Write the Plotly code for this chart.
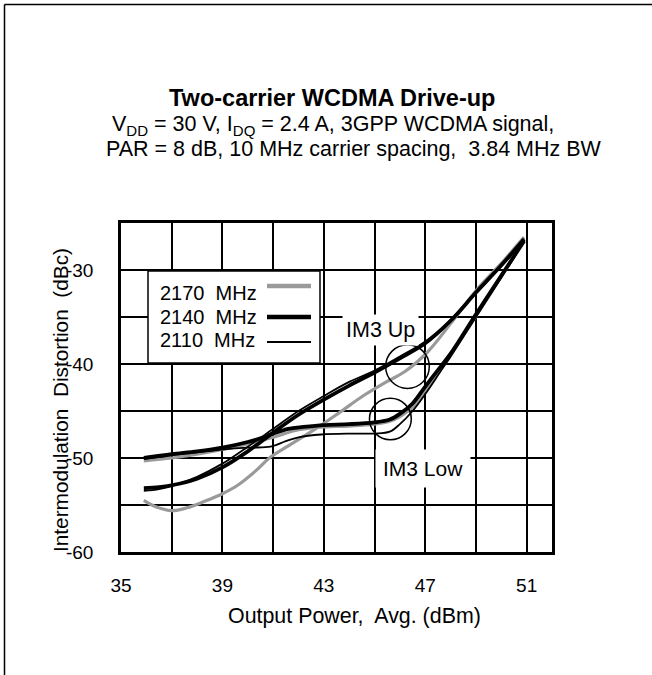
import plotly.graph_objects as go

# IM3 curves (x = output power dBm, y = dBc)
x_2170_up = [35.9, 36.3, 37, 37.6, 38.3, 39, 39.6, 40.3, 40.9, 41.6, 42.2, 42.9, 43.6, 44.6, 45.4, 46.2, 47.1, 48, 49, 50, 50.9]
y_2170_up = [-54.5, -55.1, -55.6, -55.3, -54.6, -53.8, -52.9, -51.4, -49.9, -48.7, -47.7, -46.5, -45.2, -43.3, -42.0, -40.8, -38.7, -35.7, -32.2, -29.3, -26.5]

x_2170_low = [35.9, 37, 38, 39, 40, 41, 42, 43, 44, 45, 45.6, 46, 46.5, 47, 47.6, 48, 49, 50, 50.9]
y_2170_low = [-50.3, -50.0, -49.6, -49.1, -48.5, -47.8, -47.0, -46.7, -46.6, -46.4, -46.1, -45.6, -44.6, -42.8, -40.6, -39.1, -34.9, -30.7, -26.8]

x_2140_up = [35.9, 36.5, 37, 38, 39, 40, 41, 42, 43, 44, 45, 46, 47, 48, 49, 50, 50.9]
y_2140_up = [-53.2, -53.1, -52.9, -52.2, -51.0, -49.3, -47.3, -45.4, -43.8, -42.3, -40.9, -39.4, -37.8, -35.4, -32.4, -29.5, -26.7]

x_2140_low = [35.9, 37, 38, 39, 40, 40.5, 41, 41.6, 42.2, 43, 44, 45, 45.6, 46, 46.5, 47, 47.6, 48, 49, 50, 50.9]
y_2140_low = [-50.0, -49.6, -49.3, -48.9, -48.3, -47.9, -47.4, -46.9, -46.7, -46.5, -46.4, -46.2, -45.9, -45.3, -44.2, -42.4, -40.3, -38.9, -34.7, -30.6, -26.9]

x_2110_up = [35.9, 36.5, 37, 38, 39, 40, 41, 42, 43, 44, 45, 46, 47, 48, 49, 50, 50.9]
y_2110_up = [-53.5, -53.3, -53.0, -52.0, -50.6, -48.8, -46.9, -45.0, -43.4, -41.9, -40.7, -39.2, -37.6, -35.3, -32.4, -29.6, -26.9]

x_2110_low = [35.9, 37, 38, 39, 40, 40.9, 41.5, 42, 42.9, 44, 45, 45.6, 46, 46.5, 47, 47.6, 48, 49, 50, 50.9]
y_2110_low = [-50.1, -49.7, -49.4, -49.1, -48.9, -48.8, -48.2, -47.8, -47.5, -47.4, -47.4, -47.2, -46.4, -45.0, -43.2, -40.8, -39.2, -35.0, -30.8, -27.0]

x_ticks = [35, 39, 43, 47, 51]
y_ticks = [-30, -40, -50, -60]
legend_names = ["2170 MHz", "2140 MHz", "2110 MHz"]

FONT = "Liberation Sans, Arial, sans-serif"
GRAY = "#9a9a9a"

# plot area in pixels
L, R, T, B = 121, 100, 223, 123
W, H = 652, 675
PW, PH = W - L - R, H - T - B


def px(xp):
    return (xp - L) / PW


def py(yp):
    return (H - B - yp) / PH


fig = go.Figure()

series = [
    (x_2170_up, y_2170_up, GRAY, 3.2),
    (x_2170_low, y_2170_low, GRAY, 3.2),
    (x_2140_up, y_2140_up, "black", 3.8),
    (x_2140_low, y_2140_low, "black", 3.8),
    (x_2110_up, y_2110_up, "black", 1.8),
    (x_2110_low, y_2110_low, "black", 1.8),
]
for xs, ys, col, w in series:
    fig.add_trace(go.Scatter(x=xs, y=ys, mode="lines", line=dict(color=col, width=w, shape="spline"),
                             showlegend=False, hoverinfo="skip"))

fig.update_xaxes(range=[35, 52], tickvals=x_ticks, ticktext=[str(v) for v in x_ticks],
                 showgrid=True, gridcolor="black", gridwidth=2,
                 minor=dict(tick0=35, dtick=2, showgrid=True, gridcolor="black", gridwidth=2),
                 showline=True, linecolor="black", linewidth=2.5, mirror=True, zeroline=False,
                 ticks="", ticklabelstandoff=14, tickfont=dict(family=FONT, size=19, color="black"))
fig.update_yaxes(range=[-60, -25], tickvals=y_ticks, ticktext=[str(v) for v in y_ticks],
                 showgrid=True, gridcolor="black", gridwidth=2,
                 minor=dict(tick0=-60, dtick=5, showgrid=True, gridcolor="black", gridwidth=2),
                 showline=True, linecolor="black", linewidth=2.5, mirror=True, zeroline=False,
                 ticks="", ticklabelstandoff=21, tickfont=dict(family=FONT, size=19, color="black"))

shapes = []
# page frame
shapes.append(dict(type="line", xref="paper", yref="paper", x0=px(4.5), x1=px(W + 10), y0=py(4.5), y1=py(4.5),
                   line=dict(color="black", width=1.5)))
shapes.append(dict(type="line", xref="paper", yref="paper", x0=px(4.5), x1=px(4.5), y0=py(H + 10), y1=py(4.5),
                   line=dict(color="black", width=1.5)))
# legend box
shapes.append(dict(type="rect", xref="paper", yref="paper", x0=px(148), x1=px(320), y0=py(363), y1=py(271),
                   fillcolor="white", line=dict(color="black", width=1.5), layer="above"))
leg_styles = [(GRAY, 4.5, 286), ("black", 4.5, 317), ("black", 2, 342)]
for (col, w, yy) in leg_styles:
    shapes.append(dict(type="line", xref="paper", yref="paper", x0=px(267), x1=px(311), y0=py(yy), y1=py(yy),
                       line=dict(color=col, width=w), layer="above"))
# IM3 circles
shapes.append(dict(type="circle", xref="x", yref="y", x0=45.44, x1=47.16, y0=-42.6, y1=-37.95,
                   line=dict(color="black", width=1.5)))
shapes.append(dict(type="circle", xref="x", yref="y", x0=44.8, x1=46.45, y0=-48.05, y1=-43.65,
                   line=dict(color="black", width=1.5)))

ann = []
ann.append(dict(text="<b>Two-carrier WCDMA Drive-up</b>", x=px(332), y=py(98), font=dict(size=23.5)))
ann.append(dict(text="V<sub>DD</sub> = 30 V, I<sub>DQ</sub> = 2.4 A, 3GPP WCDMA signal,", x=px(333), y=py(125),
                font=dict(size=21.5)))
ann.append(dict(text="PAR = 8 dB, 10 MHz carrier spacing,  3.84 MHz BW", x=px(354), y=py(149),
                font=dict(size=21.5)))
ann.append(dict(text="Output Power,  Avg. (dBm)", x=px(354), y=py(616), font=dict(size=21.4)))
ann.append(dict(text="Intermodulation\u00a0 Distortion\u00a0 (dBc)", x=px(60), y=py(400), textangle=-90,
                font=dict(size=20.8)))
for name, yy in zip(legend_names, [293, 317, 340]):
    ann.append(dict(text=name.replace(" ", "\u00a0 "), x=px(158), y=py(yy), xanchor="left", font=dict(size=20)))
ann.append(dict(text="IM3 Up", x=px(380), y=py(330), font=dict(size=21.5), bgcolor="white", borderpad=3))
ann.append(dict(text="IM3 Low", x=px(423), y=py(468), font=dict(size=21), bgcolor="white", borderpad=7))

for a in ann:
    a.setdefault("xanchor", "center")
    a["xref"] = "paper"
    a["yref"] = "paper"
    a["yanchor"] = "middle"
    a["showarrow"] = False
    a["font"] = dict(family=FONT, color="black", **a["font"])

fig.update_layout(width=W, height=H, margin=dict(l=L, r=R, t=T, b=B, autoexpand=False),
                  plot_bgcolor="white", paper_bgcolor="white", showlegend=False,
                  shapes=shapes, annotations=ann, font=dict(family=FONT, color="black"))

fig.write_html("out.html", config={"displayModeBar": False},
               post_script="document.body.style.margin = '0';")
